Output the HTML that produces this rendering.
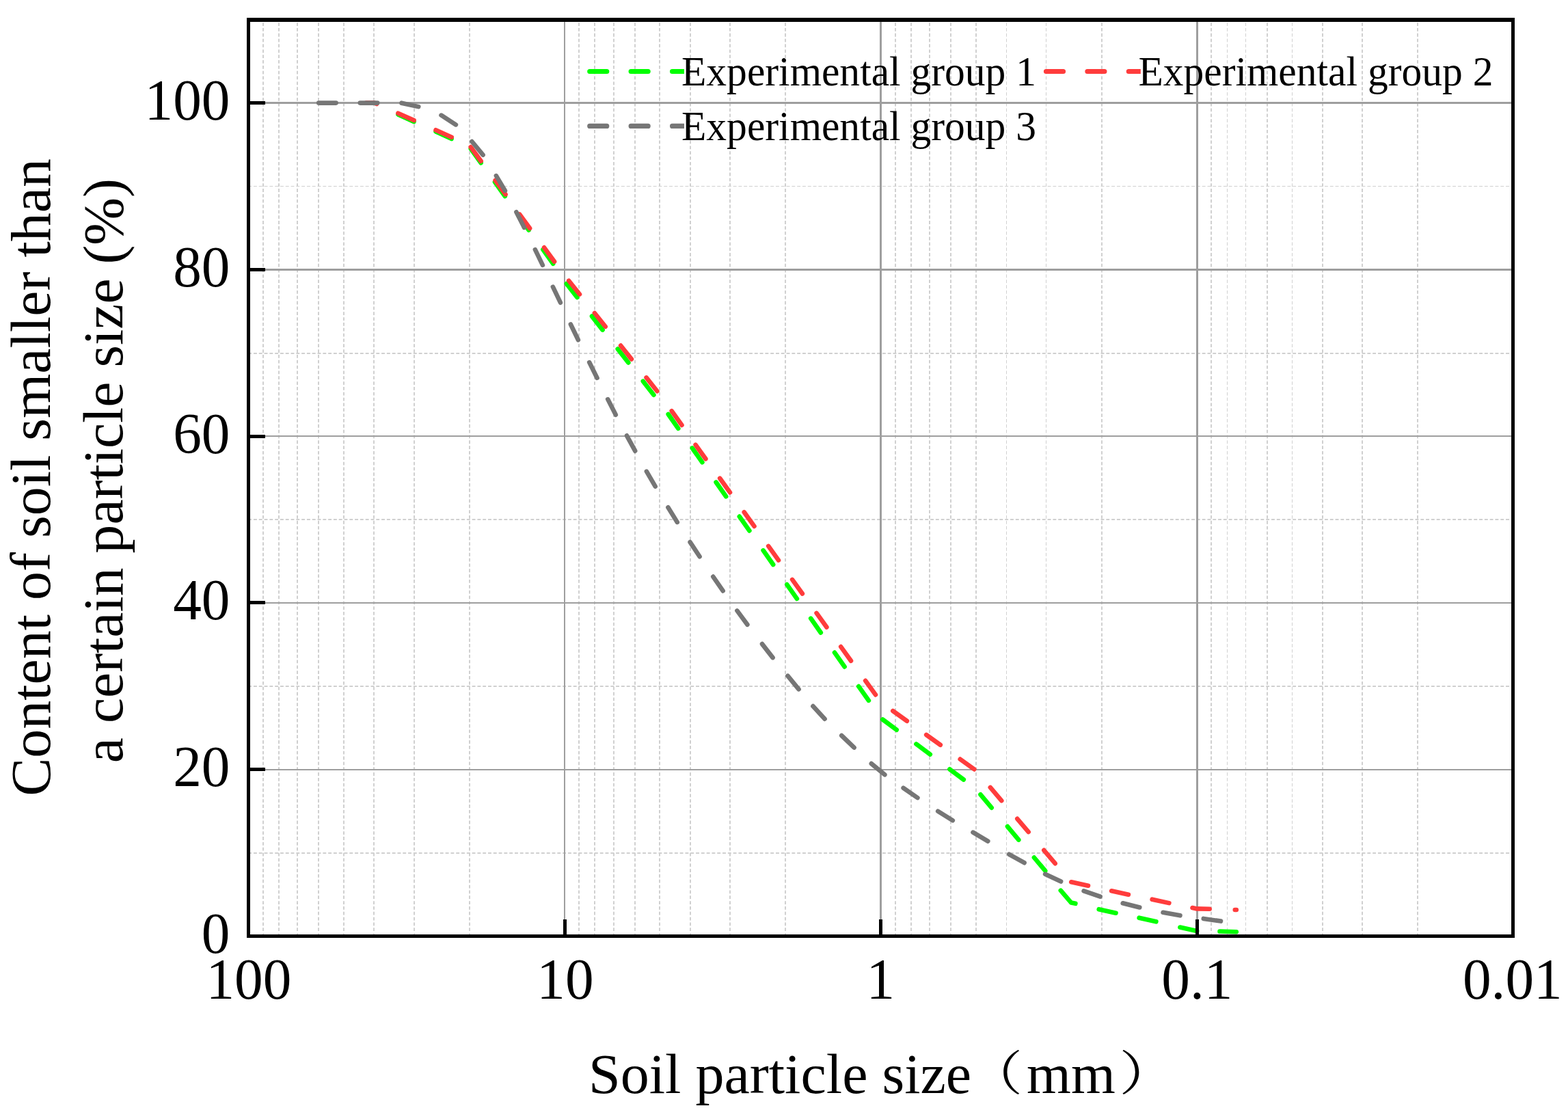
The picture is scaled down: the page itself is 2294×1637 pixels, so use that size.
<!DOCTYPE html>
<html lang="en"><head><meta charset="utf-8"><title>Soil particle size distribution</title>
<style>
html,body{margin:0;padding:0;background:#fff;}
body{width:2294px;height:1637px;overflow:hidden;}
svg{display:block;}
text{font-family:"Liberation Serif", "Noto Serif CJK SC", serif;fill:#000;}
.tk{font-size:83.33px;}
.lg{font-size:61.00px;}
</style></head><body>
<svg width="2294" height="1637" viewBox="0 0 2294 1637">
<rect x="0" y="0" width="2294" height="1637" fill="#ffffff"/>
<defs><clipPath id="plot"><rect x="366" y="31" width="1845" height="1336"/></clipPath>
<clipPath id="lg1"><rect x="850" y="90" width="151.1" height="110"/></clipPath>
<clipPath id="lg2"><rect x="1520" y="90" width="148.8" height="30"/></clipPath></defs>
<g stroke="#d0d0d0" stroke-dasharray="4.8 3.035" fill="none">
<line x1="385.0" y1="33.2" x2="385.0" y2="1367" stroke-width="2"/>
<line x1="408.0" y1="33.2" x2="408.0" y2="1367" stroke-width="2"/>
<line x1="435.0" y1="33.2" x2="435.0" y2="1367" stroke-width="2"/>
<line x1="466.0" y1="33.2" x2="466.0" y2="1367" stroke-width="2"/>
<line x1="503.0" y1="33.2" x2="503.0" y2="1367" stroke-width="2"/>
<line x1="547.0" y1="33.2" x2="547.0" y2="1367" stroke-width="2"/>
<line x1="606.0" y1="33.2" x2="606.0" y2="1367" stroke-width="2"/>
<line x1="687.0" y1="33.2" x2="687.0" y2="1367" stroke-width="2"/>
<line x1="847.0" y1="33.2" x2="847.0" y2="1367" stroke-width="2"/>
<line x1="870.0" y1="33.2" x2="870.0" y2="1367" stroke-width="2"/>
<line x1="898.0" y1="33.2" x2="898.0" y2="1367" stroke-width="2"/>
<line x1="929.0" y1="33.2" x2="929.0" y2="1367" stroke-width="2"/>
<line x1="965.0" y1="33.2" x2="965.0" y2="1367" stroke-width="2"/>
<line x1="1010.0" y1="33.2" x2="1010.0" y2="1367" stroke-width="2"/>
<line x1="1068.0" y1="33.2" x2="1068.0" y2="1367" stroke-width="2"/>
<line x1="1149.0" y1="33.2" x2="1149.0" y2="1367" stroke-width="2"/>
<line x1="1310.0" y1="33.2" x2="1310.0" y2="1367" stroke-width="2"/>
<line x1="1333.0" y1="33.2" x2="1333.0" y2="1367" stroke-width="2"/>
<line x1="1360.0" y1="33.2" x2="1360.0" y2="1367" stroke-width="2"/>
<line x1="1391.0" y1="33.2" x2="1391.0" y2="1367" stroke-width="2"/>
<line x1="1428.0" y1="33.2" x2="1428.0" y2="1367" stroke-width="2"/>
<line x1="1472.5" y1="33.2" x2="1472.5" y2="1367" stroke-width="1"/>
<line x1="1530.5" y1="33.2" x2="1530.5" y2="1367" stroke-width="1"/>
<line x1="1612.0" y1="33.2" x2="1612.0" y2="1367" stroke-width="2"/>
<line x1="1772.0" y1="33.2" x2="1772.0" y2="1367" stroke-width="2"/>
<line x1="1795.5" y1="33.2" x2="1795.5" y2="1367" stroke-width="1"/>
<line x1="1822.5" y1="33.2" x2="1822.5" y2="1367" stroke-width="1"/>
<line x1="1854.0" y1="33.2" x2="1854.0" y2="1367" stroke-width="2"/>
<line x1="1890.5" y1="33.2" x2="1890.5" y2="1367" stroke-width="1"/>
<line x1="1935.0" y1="33.2" x2="1935.0" y2="1367" stroke-width="2"/>
<line x1="1993.0" y1="33.2" x2="1993.0" y2="1367" stroke-width="2"/>
<line x1="2074.0" y1="33.2" x2="2074.0" y2="1367" stroke-width="2"/>
</g>
<g stroke="#d0d0d0" stroke-dasharray="4.9 2.896" stroke-dashoffset="2.8" fill="none">
<line x1="366" y1="272.5" x2="2209.2" y2="272.5" stroke-width="1"/>
<line x1="366" y1="517.0" x2="2209.2" y2="517.0" stroke-width="2"/>
<line x1="366" y1="760.0" x2="2209.2" y2="760.0" stroke-width="2"/>
<line x1="366" y1="1004.0" x2="2209.2" y2="1004.0" stroke-width="2"/>
<line x1="366" y1="1248.0" x2="2209.2" y2="1248.0" stroke-width="2"/>
</g>
<g fill="#9e9e9e" shape-rendering="crispEdges">
<rect x="825" y="31" width="2" height="1336"/>
<rect x="1287" y="31" width="3" height="1336"/>
<rect x="1750" y="31" width="3" height="1336"/>
<rect x="366" y="149" width="1845" height="3"/>
<rect x="366" y="393" width="1845" height="3"/>
<rect x="366" y="637" width="1845" height="2"/>
<rect x="366" y="881" width="1845" height="2"/>
<rect x="366" y="1125" width="1845" height="2"/>
</g>
<g clip-path="url(#plot)">
<g fill="none" stroke="#00ff00" stroke-width="6.6" stroke-linecap="round" stroke-linejoin="round">
<polyline points="582.5,167.4 605.5,178.0"/>
<polyline points="637.6,192.5 660.6,203.1"/>
<polyline points="688.8,217.6 703.6,238.2"/>
<polyline points="724.0,266.4 738.8,287.0"/>
<polyline points="758.8,316.0 773.6,336.6"/>
<polyline points="794.4,365.1 809.2,385.7"/>
<polyline points="828.8,415.0 844.4,435.0"/>
<polyline points="866.0,462.6 881.6,482.6"/>
<polyline points="903.7,510.5 919.3,530.5"/>
<polyline points="940.8,557.7 956.4,577.7"/>
<polyline points="977.7,606.0 992.3,626.8"/>
<polyline points="1012.8,655.5 1027.4,676.3"/>
<polyline points="1047.6,705.5 1062.2,726.3"/>
<polyline points="1081.8,755.6 1096.4,776.4"/>
<polyline points="1116.6,805.2 1131.2,826.0"/>
<polyline points="1151.3,855.1 1165.9,875.9"/>
<polyline points="1186.2,904.7 1200.8,925.5"/>
<polyline points="1221.0,954.6 1235.6,975.4"/>
<polyline points="1256.2,1004.1 1270.9,1024.8"/>
<polyline points="1291.3,1052.5 1311.7,1067.7"/>
<polyline points="1340.4,1088.4 1360.8,1103.6"/>
<polyline points="1389.4,1125.3 1409.8,1140.5"/>
<polyline points="1434.5,1162.3 1450.7,1181.7"/>
<polyline points="1474.0,1209.1 1490.3,1228.6"/>
<polyline points="1512.9,1254.5 1529.2,1273.9"/>
<polyline points="1607.7,1330.2 1632.5,1335.7"/>
<polyline points="1666.6,1342.7 1691.4,1348.3"/>
<polyline points="1726.4,1356.5 1751.0,1362.0 1751.2,1362.0"/>
<polyline points="1784.5,1362.5 1808.8,1363.2"/>
</g>
<polyline points="1551.8,1302.7 1567.2,1320.6 1573.4,1321.8" fill="none" stroke="#00ff00" stroke-width="6.6" stroke-linecap="round" stroke-linejoin="round"/>
<g fill="none" stroke="#ff3c3c" stroke-width="6.6" stroke-linecap="round" stroke-linejoin="round">
<polyline points="536.1,150.4 547.5,150.4 551.2,152.0"/>
<polyline points="1806.8,1331.0 1808.8,1331.0"/>
<polyline points="582.4,165.7 605.6,176.1"/>
<polyline points="637.5,190.3 660.7,200.7"/>
<polyline points="688.7,215.1 703.7,235.7"/>
<polyline points="724.6,263.8 739.6,284.4"/>
<polyline points="760.1,313.4 775.1,334.0"/>
<polyline points="796.1,362.1 811.1,382.7"/>
<polyline points="832.2,410.7 848.0,430.5"/>
<polyline points="869.9,458.0 885.7,477.8"/>
<polyline points="908.1,505.6 923.9,525.4"/>
<polyline points="945.6,552.4 961.4,572.2"/>
<polyline points="982.7,601.3 997.5,621.9"/>
<polyline points="1017.6,650.7 1032.4,671.3"/>
<polyline points="1053.2,699.8 1068.0,720.4"/>
<polyline points="1088.7,749.3 1103.5,769.9"/>
<polyline points="1124.2,798.9 1139.0,819.6"/>
<polyline points="1159.1,847.9 1173.9,868.5"/>
<polyline points="1194.6,896.9 1209.4,917.5"/>
<polyline points="1230.2,946.1 1245.0,966.7"/>
<polyline points="1266.1,995.8 1281.0,1016.4"/>
<polyline points="1306.3,1040.0 1326.9,1054.8"/>
<polyline points="1355.2,1075.0 1375.8,1089.8"/>
<polyline points="1404.7,1110.6 1425.3,1125.4"/>
<polyline points="1448.8,1151.9 1465.3,1171.3"/>
<polyline points="1488.3,1197.8 1504.7,1217.1"/>
<polyline points="1527.3,1243.8 1543.7,1263.2"/>
<polyline points="1567.2,1290.3 1592.0,1295.7"/>
<polyline points="1626.1,1303.3 1650.9,1308.7"/>
<polyline points="1685.6,1315.7 1710.4,1321.1"/>
<polyline points="1744.5,1328.0 1751.0,1329.4 1769.7,1329.8"/>
</g>
<g fill="none" stroke="#767676" stroke-width="6.6" stroke-linecap="round">
<line x1="466.2" y1="150.6" x2="491.6" y2="150.6"/>
<line x1="526.8" y1="150.6" x2="552.2" y2="150.6"/>
<line x1="587.5" y1="150.7" x2="612.3" y2="156.1"/>
<line x1="645.5" y1="168.6" x2="666.9" y2="182.4"/>
<line x1="690.4" y1="207.0" x2="706.6" y2="226.6"/>
<line x1="725.9" y1="257.1" x2="738.9" y2="278.9"/>
<line x1="755.4" y1="310.3" x2="767.0" y2="332.9"/>
<line x1="782.9" y1="365.1" x2="793.9" y2="387.9"/>
<line x1="808.9" y1="419.7" x2="819.9" y2="442.7"/>
<line x1="834.9" y1="474.5" x2="845.9" y2="497.3"/>
<line x1="862.2" y1="530.1" x2="873.6" y2="552.9"/>
<line x1="889.2" y1="584.1" x2="900.8" y2="606.7"/>
<line x1="917.0" y1="637.3" x2="929.2" y2="659.7"/>
<line x1="945.9" y1="689.6" x2="958.7" y2="711.6"/>
<line x1="977.4" y1="742.3" x2="990.8" y2="763.9"/>
<line x1="1009.6" y1="793.1" x2="1023.6" y2="814.3"/>
<line x1="1043.3" y1="843.6" x2="1057.7" y2="864.4"/>
<line x1="1078.4" y1="893.4" x2="1093.4" y2="913.8"/>
<line x1="1115.0" y1="942.1" x2="1130.6" y2="962.1"/>
<line x1="1152.4" y1="988.7" x2="1168.6" y2="1008.3"/>
<line x1="1189.4" y1="1033.1" x2="1206.6" y2="1051.7"/>
<line x1="1231.2" y1="1076.0" x2="1249.6" y2="1093.6"/>
<line x1="1274.8" y1="1117.1" x2="1294.4" y2="1133.3"/>
<line x1="1321.6" y1="1152.7" x2="1342.4" y2="1167.1"/>
<line x1="1372.2" y1="1186.8" x2="1393.8" y2="1200.2"/>
<line x1="1423.5" y1="1217.6" x2="1445.3" y2="1230.6"/>
<line x1="1476.4" y1="1249.8" x2="1498.6" y2="1262.2"/>
<line x1="1529.1" y1="1278.7" x2="1552.1" y2="1289.5"/>
<line x1="1585.6" y1="1303.3" x2="1609.6" y2="1311.7"/>
<line x1="1642.7" y1="1321.3" x2="1667.3" y2="1327.5"/>
<line x1="1701.5" y1="1334.8" x2="1726.5" y2="1339.3"/>
<line x1="1760.8" y1="1343.9" x2="1786.0" y2="1347.6"/>
</g>
</g>
<g fill="#000" shape-rendering="crispEdges">
<rect x="361" y="26" width="1855" height="5.6"/>
<rect x="361" y="1367" width="1855" height="5"/>
<rect x="361" y="26" width="5" height="1346"/>
<rect x="2211" y="26" width="5" height="1346"/>
<rect x="366" y="1123" width="22" height="5"/>
<rect x="366" y="879" width="22" height="5"/>
<rect x="366" y="636" width="22" height="5"/>
<rect x="366" y="392" width="22" height="5"/>
<rect x="366" y="148" width="22" height="5"/>
<rect x="824" y="1345" width="5" height="22"/>
<rect x="1286" y="1345" width="5" height="22"/>
<rect x="1749" y="1345" width="5" height="22"/>
</g>
<text class="tk" transform="translate(336.5 1393.7) scale(1 1.014)" text-anchor="end">0</text>
<text class="tk" transform="translate(336.5 1149.9) scale(1 1.014)" text-anchor="end">20</text>
<text class="tk" transform="translate(336.5 906.1) scale(1 1.014)" text-anchor="end">40</text>
<text class="tk" transform="translate(336.5 663.2) scale(1 1.014)" text-anchor="end">60</text>
<text class="tk" transform="translate(336.5 419.4) scale(1 1.014)" text-anchor="end">80</text>
<text class="tk" transform="translate(336.5 174.6) scale(1 1.014)" text-anchor="end">100</text>
<text class="tk" transform="translate(363.9 1460.8) scale(1 1.014)" text-anchor="middle">100</text>
<text class="tk" transform="translate(826.9 1460.8) scale(1 1.014)" text-anchor="middle">10</text>
<text class="tk" transform="translate(1288.2 1460.8) scale(1 1.014)" text-anchor="middle">1</text>
<text class="tk" transform="translate(1751.4 1460.8) scale(1 1.014)" text-anchor="middle">0.1</text>
<text class="tk" transform="translate(2212.8 1460.8) scale(1 1.014)" text-anchor="middle">0.01</text>
<text class="tk" x="860.9" y="1599.2" textLength="560.3" lengthAdjust="spacingAndGlyphs">Soil particle size</text>
<text class="tk" transform="translate(1416.2 1594.9) scale(0.958 0.836)">（</text>
<text class="tk" x="1502.1" y="1599.2">mm</text>
<text class="tk" transform="translate(1637.2 1594.6) scale(1.0 0.836)">）</text>
<text class="tk" transform="translate(72.9 698.4) rotate(-90)" text-anchor="middle" textLength="932.7" lengthAdjust="spacingAndGlyphs">Content of soil smaller than</text>
<text class="tk" transform="translate(179.3 688.6) rotate(-90)" text-anchor="middle" textLength="855.1" lengthAdjust="spacingAndGlyphs">a certain particle size (%)</text>
<g clip-path="url(#lg1)"><line x1="862.75" y1="104.5" x2="1062.75" y2="104.5" stroke="#00ff00" stroke-width="7.2" stroke-linecap="round" stroke-dasharray="25 35.4"/></g>
<g clip-path="url(#lg1)"><line x1="862.75" y1="184.4" x2="1062.75" y2="184.4" stroke="#767676" stroke-width="7.2" stroke-linecap="round" stroke-dasharray="25 35.4"/></g>
<g clip-path="url(#lg2)"><line x1="1530.50" y1="104.5" x2="1730.50" y2="104.5" stroke="#ff3c3c" stroke-width="7.2" stroke-linecap="round" stroke-dasharray="25 35.4"/></g>
<text class="lg" x="997" y="125" textLength="519" lengthAdjust="spacingAndGlyphs">Experimental group 1</text>
<text class="lg" x="1665.4" y="125" textLength="519" lengthAdjust="spacingAndGlyphs">Experimental group 2</text>
<text class="lg" x="997" y="204.6" textLength="519" lengthAdjust="spacingAndGlyphs">Experimental group 3</text>
</svg>
</body></html>
